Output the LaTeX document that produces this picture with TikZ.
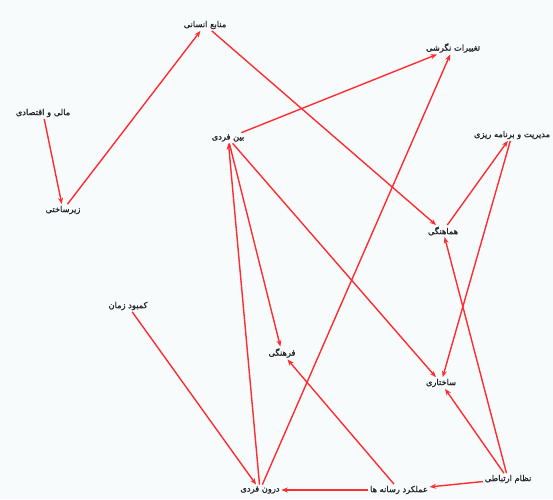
\documentclass[tikz,border=0pt]{standalone}
\usepackage{fontspec}
\usetikzlibrary{arrows.meta}
\TeXXeTstate=1
\newfontfamily\arabicfont[Script=Arabic,FakeBold=1.2]{DejaVu Sans}
\definecolor{bgc}{RGB}{247,251,252}
\definecolor{edgec}{RGB}{255,45,50}
\definecolor{txtc}{RGB}{35,35,40}
\tikzset{
  lbl/.style={font=\arabicfont\fontsize{8.3}{9}\selectfont, text=txtc, inner sep=1.5pt},
  link/.style={draw=edgec, line width=1.4pt, -{Stealth[length=6.5pt,width=5pt]}}
}
\newcommand{\fa}[1]{\beginR #1\endR}
\begin{document}
\begin{tikzpicture}[x=1pt,y=-1pt]
\useasboundingbox (0,0) rectangle (553,499);
\fill[bgc] (0,0) rectangle (553,499);
\node[lbl] (manabe) at (205,25) {\fa{منابع انسانی}};
\node[lbl] (mali) at (43,113) {\fa{مالی و اقتصادی}};
\node[lbl] (zir) at (63,210) {\fa{زیرساختی}};
\node[lbl] (taghyir) at (453,48) {\fa{تغییرات نگرشی}};
\node[lbl] (modir) at (512,135) {\fa{مدیریت و برنامه ریزی}};
\node[lbl] (beyn) at (228,138) {\fa{بین فردی}};
\node[lbl] (hamah) at (443,231) {\fa{هماهنگی}};
\node[lbl] (kambud) at (128,306) {\fa{کمبود زمان}};
\node[lbl] (farhang) at (282,353) {\fa{فرهنگی}};
\node[lbl] (sakht) at (441,383) {\fa{ساختاری}};
\node[lbl] (nezam) at (508,479) {\fa{نظام ارتباطی}};
\node[lbl] (amal) at (399,490) {\fa{عملکرد رسانه ها}};
\node[lbl] (darun) at (260,490) {\fa{درون فردی}};
\draw[link] (mali) -- (zir);
\draw[link] (zir) -- (manabe);
\draw[link] (manabe) -- (hamah);
\draw[link] (beyn) -- (taghyir);
\draw[link] (darun) -- (taghyir);
\draw[link] (darun) -- (beyn);
\draw[link] (beyn) -- (farhang);
\draw[link] (beyn) -- (sakht);
\draw[link] (kambud) -- (darun);
\draw[link] (amal) -- (darun);
\draw[link] (amal) -- (farhang);
\draw[link] (nezam) -- (amal);
\draw[link] (nezam) -- (sakht);
\draw[link] (nezam) -- (hamah);
\draw[link] (hamah) -- (modir);
\draw[link] (modir) -- (sakht);
\end{tikzpicture}
\end{document}
